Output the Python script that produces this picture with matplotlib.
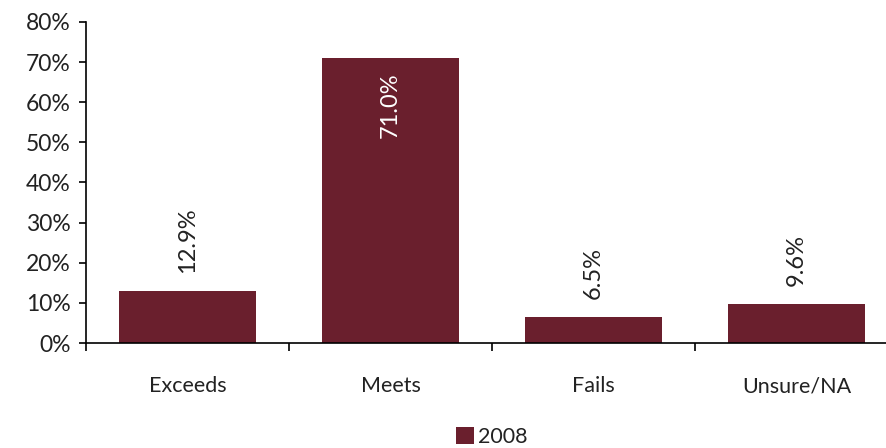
import matplotlib
matplotlib.use("Agg")
import matplotlib.pyplot as plt
from matplotlib.ticker import PercentFormatter

categories = ["Exceeds", "Meets", "Fails", "Unsure/NA"]
values = [12.9, 71.0, 6.5, 9.6]
labels = ["12.9%", "71.0%", "6.5%", "9.6%"]
series_name = "2008"

plt.rcParams['font.family'] = ['Lato', 'DejaVu Sans']
color = "#6A1F2D"
fs = 15.5

fig = plt.figure(figsize=(8.87, 4.48), dpi=100)
ax = fig.add_axes([86/887, 105/448, 812/887, 321/448])
x = range(len(categories))
bars = ax.bar(x, values, width=0.67, color=color, label=series_name)

ax.set_ylim(0, 80)
ax.set_xlim(-0.5, 3.5)
ax.set_yticks(range(0, 81, 10))
ax.yaxis.set_major_formatter(PercentFormatter(decimals=0))
ax.tick_params(axis='y', labelsize=fs + 1, length=5, width=1.2, colors='black', direction='out', pad=6)
for t in ax.get_yticklabels():
    t.set_color('#222222')
ax.set_xticks(list(x))
ax.set_xticklabels(categories, fontsize=fs, color='#222222')
ax.tick_params(axis='x', which='major', length=0, pad=24)
ax.set_xticks([i + 0.5 for i in range(-1, len(categories))], minor=True)
ax.tick_params(axis='x', which='minor', length=6, width=1.2, direction='out')

for s in ['top', 'right']:
    ax.spines[s].set_visible(False)
for s in ['left', 'bottom']:
    ax.spines[s].set_linestyle((0, (2, 1)))
    ax.spines[s].set_linewidth(1.2)
    ax.spines[s].set_color('black')

for i, (v, lab) in enumerate(zip(values, labels)):
    if v > 50:
        ax.text(i, v - 3.5, lab, rotation=90, ha='center', va='top', color='white', fontsize=fs + 1.5)
    else:
        ax.text(i, v + 4.5, lab, rotation=90, ha='center', va='bottom', color='#222222', fontsize=fs + 1.5)

leg = ax.legend(loc='lower center', bbox_to_anchor=(0.5, -0.385), frameon=False,
                fontsize=fs, handlelength=0.8, handleheight=0.8, handletextpad=0.2)
for t in leg.get_texts():
    t.set_color('#222222')

fig.savefig("out.png", dpi=100)
